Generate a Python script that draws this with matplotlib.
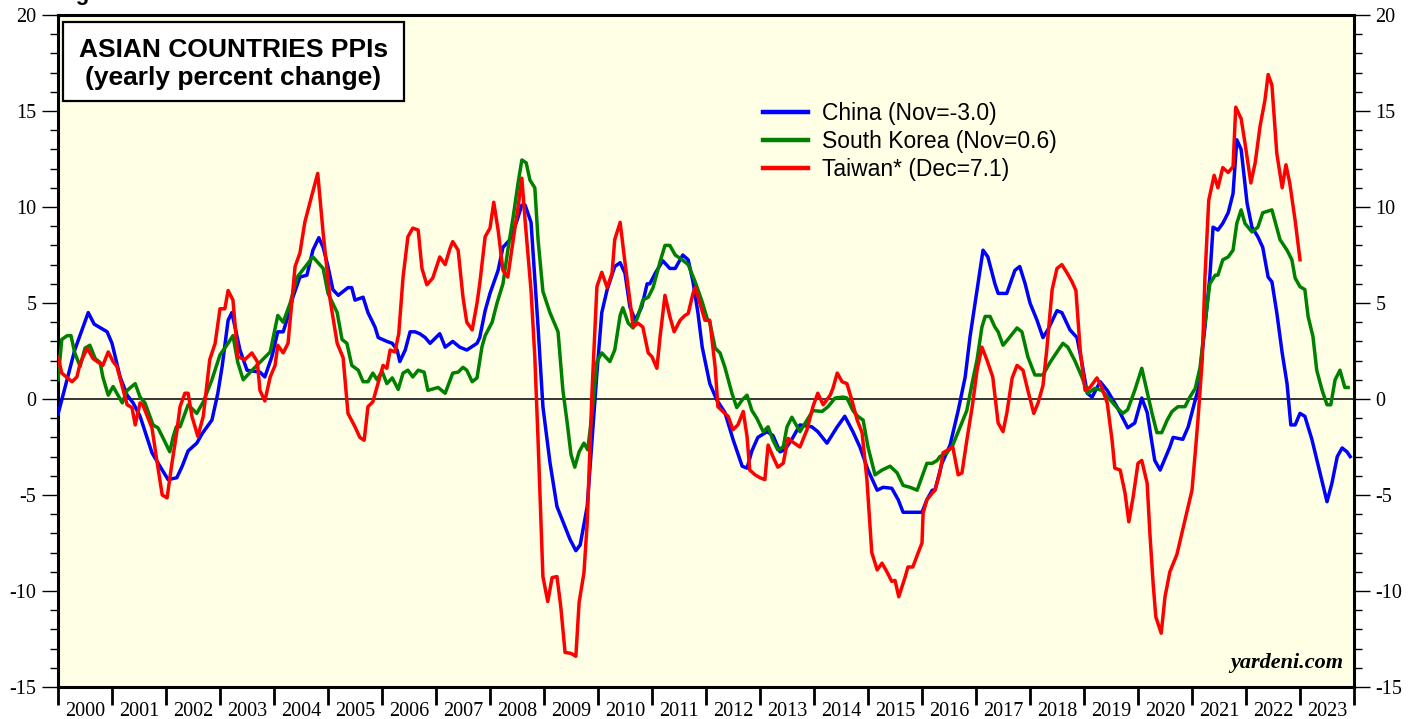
import matplotlib
matplotlib.use("Agg")
import matplotlib.pyplot as plt
from matplotlib.patches import Rectangle
from matplotlib.ticker import FixedLocator, MultipleLocator, NullFormatter

plt.rcParams["axes.unicode_minus"] = False

# ---------------- data (decimal year, % y/y) ----------------
china_t = [2000.0, 2000.31, 2000.56, 2000.67, 2000.91, 2001.0, 2001.15, 2001.28, 2001.39, 2001.52,
           2001.74, 2001.93, 2002.04, 2002.20, 2002.30, 2002.41, 2002.57, 2002.67, 2002.85, 2002.96,
           2003.04, 2003.15, 2003.22, 2003.37, 2003.50, 2003.74, 2003.83, 2003.96, 2004.07, 2004.17,
           2004.26, 2004.35, 2004.48, 2004.61, 2004.72, 2004.83, 2004.91, 2005.0, 2005.09, 2005.19,
           2005.37, 2005.44, 2005.50, 2005.65, 2005.74, 2005.87, 2005.93, 2006.09, 2006.19, 2006.28,
           2006.33, 2006.43, 2006.52, 2006.61, 2006.70, 2006.80, 2006.89, 2007.07, 2007.17, 2007.31,
           2007.44, 2007.57, 2007.76, 2007.81, 2007.91, 2008.0, 2008.15, 2008.24, 2008.37, 2008.50,
           2008.59, 2008.65, 2008.76, 2008.89, 2008.98, 2009.11, 2009.24, 2009.48, 2009.59, 2009.67,
           2009.80, 2009.89, 2009.98, 2010.07, 2010.17, 2010.31, 2010.41, 2010.50, 2010.59, 2010.69,
           2010.81, 2010.91, 2010.96, 2011.06, 2011.20, 2011.33, 2011.43, 2011.57, 2011.67, 2011.76,
           2011.85, 2011.93, 2012.07, 2012.20, 2012.35, 2012.50, 2012.67, 2012.76, 2012.85, 2012.96,
           2013.13, 2013.24, 2013.37, 2013.46, 2013.59, 2013.74, 2013.96, 2014.07, 2014.24, 2014.43,
           2014.57, 2014.72, 2014.85, 2015.0, 2015.17, 2015.28, 2015.44, 2015.56, 2015.65, 2016.0,
           2016.09, 2016.19, 2016.24, 2016.37, 2016.52, 2016.67, 2016.80, 2016.89, 2017.02, 2017.13,
           2017.22, 2017.35, 2017.41, 2017.57, 2017.72, 2017.81, 2017.91, 2018.0, 2018.13, 2018.24,
           2018.33, 2018.50, 2018.59, 2018.74, 2018.87, 2018.96, 2019.06, 2019.15, 2019.30, 2019.43,
           2019.61, 2019.81, 2019.94, 2020.07, 2020.17, 2020.31, 2020.41, 2020.59, 2020.65, 2020.83,
           2020.93, 2021.06, 2021.11, 2021.24, 2021.33, 2021.39, 2021.48, 2021.57, 2021.67, 2021.76,
           2021.83, 2021.91, 2022.02, 2022.11, 2022.22, 2022.31, 2022.41, 2022.48, 2022.57, 2022.67,
           2022.76, 2022.83, 2022.91, 2023.0, 2023.09, 2023.22, 2023.37, 2023.50, 2023.59, 2023.69,
           2023.78, 2023.87, 2023.93]
china_v = [-0.8, 2.55, 4.5, 3.9, 3.5, 2.9, 1.15, 0.2, -0.2, -0.9,
           -2.8, -3.7, -4.2, -4.1, -3.5, -2.7, -2.3, -1.8, -1.1, 0.3,
           1.7, 4.1, 4.5, 2.55, 1.5, 1.4, 1.15, 2.2, 3.5, 3.5,
           4.3, 5.3, 6.35, 6.45, 7.75, 8.4, 7.9, 6.9, 5.7, 5.4,
           5.8, 5.8, 5.15, 5.3, 4.5, 3.75, 3.2, 3.0, 2.9, 2.55,
           1.95, 2.55, 3.5, 3.5, 3.4, 3.2, 2.9, 3.4, 2.7, 3.0,
           2.7, 2.55, 2.9, 3.2, 4.6, 5.5, 6.7, 7.9, 8.3, 9.3,
           10.1, 10.1, 9.2, 3.75, -0.4, -3.3, -5.6, -7.3, -7.9, -7.6,
           -5.6, -2.1, 1.35, 4.5, 5.7, 6.9, 7.1, 6.55, 4.8, 4.1,
           4.8, 6.0, 6.0, 6.55, 7.2, 6.8, 6.8, 7.5, 7.25, 6.1,
           4.5, 2.7, 0.8, -0.05, -0.7, -2.1, -3.5, -3.6, -2.7, -2.0,
           -1.7, -1.9, -2.75, -2.65, -2.1, -1.35, -1.45, -1.7, -2.3, -1.45,
           -0.9, -1.7, -2.5, -3.7, -4.75, -4.6, -4.65, -5.25, -5.9, -5.9,
           -5.25, -4.75, -4.75, -3.35, -2.4, -0.6, 1.15, 3.25, 5.7, 7.75,
           7.4, 6.0, 5.5, 5.5, 6.7, 6.9, 6.0, 5.0, 4.1, 3.2,
           3.6, 4.6, 4.5, 3.6, 3.2, 1.9, 0.3, 0.1, 0.9, 0.45,
           -0.4, -1.5, -1.25, 0.05, -0.7, -3.2, -3.7, -2.5, -2.0, -2.1,
           -1.45, -0.05, 0.45, 3.75, 6.35, 8.95, 8.8, 9.15, 9.7, 10.7,
           13.5, 13.0, 10.2, 8.95, 8.45, 7.9, 6.35, 6.1, 4.5, 2.4,
           0.8, -1.35, -1.35, -0.75, -0.9, -2.1, -3.85, -5.35, -4.4, -3.0,
           -2.55, -2.75, -3.0]

korea_t = [2000.0, 2000.07, 2000.17, 2000.24, 2000.31, 2000.41, 2000.50, 2000.59, 2000.69, 2000.78,
           2000.83, 2000.93, 2001.02, 2001.11, 2001.19, 2001.28, 2001.43, 2001.52, 2001.61, 2001.76,
           2001.85, 2001.94, 2002.07, 2002.13, 2002.19, 2002.26, 2002.41, 2002.57, 2002.69, 2002.85,
           2003.0, 2003.15, 2003.24, 2003.33, 2003.43, 2003.56, 2003.93, 2004.07, 2004.17, 2004.30,
           2004.43, 2004.61, 2004.72, 2004.91, 2005.0, 2005.17, 2005.26, 2005.35, 2005.44, 2005.56,
           2005.65, 2005.74, 2005.83, 2005.91, 2006.0, 2006.09, 2006.19, 2006.30, 2006.39, 2006.48,
           2006.57, 2006.67, 2006.78, 2006.85, 2007.04, 2007.17, 2007.31, 2007.41, 2007.50, 2007.57,
           2007.67, 2007.76, 2007.85, 2007.91, 2008.04, 2008.13, 2008.24, 2008.33, 2008.43, 2008.52,
           2008.59, 2008.67, 2008.74, 2008.83, 2008.89, 2008.98, 2009.11, 2009.26, 2009.35, 2009.43,
           2009.50, 2009.57, 2009.65, 2009.74, 2009.81, 2009.89, 2009.98, 2010.07, 2010.22, 2010.31,
           2010.41, 2010.46, 2010.56, 2010.65, 2010.74, 2010.83, 2010.93, 2011.02, 2011.15, 2011.24,
           2011.33, 2011.43, 2011.56, 2011.67, 2011.80, 2011.93, 2012.02, 2012.07, 2012.17, 2012.26,
           2012.35, 2012.48, 2012.57, 2012.67, 2012.76, 2012.85, 2012.94, 2013.06, 2013.15, 2013.24,
           2013.33, 2013.43, 2013.50, 2013.59, 2013.74, 2013.87, 2013.98, 2014.15, 2014.26, 2014.39,
           2014.54, 2014.61, 2014.72, 2014.81, 2014.91, 2015.0, 2015.13, 2015.26, 2015.41, 2015.54,
           2015.65, 2015.78, 2015.91, 2016.0, 2016.09, 2016.19, 2016.28, 2016.33, 2016.46, 2016.57,
           2016.70, 2016.83, 2016.93, 2017.02, 2017.11, 2017.17, 2017.26, 2017.35, 2017.41, 2017.50,
           2017.59, 2017.76, 2017.85, 2017.96, 2018.09, 2018.24, 2018.37, 2018.50, 2018.61, 2018.70,
           2018.83, 2018.96, 2019.07, 2019.20, 2019.33, 2019.44, 2019.61, 2019.72, 2019.81, 2019.94,
           2020.07, 2020.17, 2020.26, 2020.35, 2020.44, 2020.54, 2020.63, 2020.74, 2020.87, 2020.96,
           2021.06, 2021.15, 2021.24, 2021.33, 2021.43, 2021.48, 2021.57, 2021.67, 2021.76, 2021.83,
           2021.91, 2021.98, 2022.11, 2022.22, 2022.31, 2022.48, 2022.63, 2022.76, 2022.85, 2022.91,
           2023.0, 2023.09, 2023.15, 2023.24, 2023.31, 2023.41, 2023.50, 2023.57, 2023.65, 2023.74,
           2023.83, 2023.89]
korea_v = [1.0, 3.1, 3.3, 3.3, 2.4, 1.7, 2.65, 2.8, 2.1, 1.9,
           1.15, 0.2, 0.65, 0.2, -0.2, 0.45, 0.8, 0.1, -0.2, -1.35,
           -1.5, -2.0, -2.75, -2.0, -1.45, -1.45, -0.3, -0.75, -0.15, 1.0,
           2.3, 2.9, 3.3, 1.9, 1.0, 1.4, 2.45, 4.35, 4.0, 5.0,
           6.35, 7.0, 7.4, 6.8, 5.5, 4.5, 3.1, 2.9, 1.75, 1.5,
           0.9, 0.9, 1.35, 1.0, 1.45, 0.8, 1.1, 0.5, 1.35, 1.5,
           1.15, 1.5, 1.4, 0.45, 0.6, 0.3, 1.35, 1.4, 1.65, 1.5,
           0.9, 1.1, 2.7, 3.3, 4.0, 5.0, 6.0, 7.75, 9.5, 11.25,
           12.45, 12.3, 11.4, 11.0, 8.3, 5.6, 4.5, 3.5, 0.45, -1.25,
           -2.9, -3.55, -2.75, -2.3, -2.65, -0.75, 1.95, 2.4, 1.95, 2.55,
           4.35, 4.75, 3.95, 3.7, 4.3, 5.15, 5.3, 5.8, 7.15, 8.0,
           8.0, 7.5, 7.25, 7.0, 6.1, 5.05, 4.2, 4.0, 2.65, 2.4,
           1.65, 0.3, -0.45, -0.05, 0.2, -0.6, -1.0, -1.7, -1.45, -2.15,
           -2.65, -2.5, -1.45, -0.95, -1.7, -1.1, -0.6, -0.65, -0.4, 0.05,
           0.1, 0.05, -0.6, -0.9, -1.1, -2.5, -3.95, -3.7, -3.5, -3.85,
           -4.5, -4.6, -4.75, -4.05, -3.35, -3.35, -3.2, -3.0, -2.8, -2.4,
           -1.5, -0.6, 0.85, 2.05, 3.75, 4.3, 4.3, 3.75, 3.5, 2.8,
           3.1, 3.7, 3.5, 2.2, 1.25, 1.25, 1.9, 2.45, 2.9, 2.7,
           2.0, 1.15, 0.3, 0.55, 0.45, 0.1, -0.45, -0.75, -0.55, 0.45,
           1.6, 0.35, -0.75, -1.75, -1.75, -1.1, -0.65, -0.4, -0.4, 0.1,
           0.55, 1.65, 3.95, 6.0, 6.45, 6.45, 7.25, 7.4, 7.75, 9.15,
           9.85, 9.15, 8.7, 8.95, 9.7, 9.85, 8.3, 7.75, 7.25, 6.3,
           5.85, 5.7, 4.3, 3.25, 1.5, 0.45, -0.3, -0.3, 1.0, 1.5,
           0.6, 0.6]

taiwan_t = [2000.0, 2000.07, 2000.26, 2000.35, 2000.41, 2000.54, 2000.65, 2000.78, 2000.83, 2000.93,
            2001.02, 2001.09, 2001.19, 2001.28, 2001.37, 2001.43, 2001.52, 2001.57, 2001.74, 2001.83,
            2001.93, 2002.02, 2002.11, 2002.20, 2002.26, 2002.35, 2002.41, 2002.48, 2002.59, 2002.69,
            2002.81, 2002.91, 2003.0, 2003.09, 2003.15, 2003.24, 2003.33, 2003.46, 2003.59, 2003.69,
            2003.74, 2003.83, 2003.93, 2004.02, 2004.07, 2004.17, 2004.26, 2004.39, 2004.48, 2004.57,
            2004.70, 2004.81, 2004.91, 2005.04, 2005.17, 2005.28, 2005.37, 2005.50, 2005.59, 2005.67,
            2005.74, 2005.83, 2006.02, 2006.09, 2006.15, 2006.24, 2006.31, 2006.39, 2006.48, 2006.57,
            2006.67, 2006.74, 2006.83, 2006.94, 2007.07, 2007.17, 2007.26, 2007.31, 2007.41, 2007.50,
            2007.57, 2007.67, 2007.76, 2007.81, 2007.91, 2008.0, 2008.07, 2008.15, 2008.24, 2008.33,
            2008.43, 2008.52, 2008.59, 2008.65, 2008.76, 2008.83, 2008.89, 2008.93, 2008.98, 2009.07,
            2009.15, 2009.24, 2009.31, 2009.39, 2009.50, 2009.59, 2009.65, 2009.74, 2009.80, 2009.89,
            2009.98, 2010.07, 2010.17, 2010.26, 2010.31, 2010.41, 2010.50, 2010.59, 2010.65, 2010.74,
            2010.83, 2010.93, 2011.0, 2011.09, 2011.15, 2011.24, 2011.33, 2011.41, 2011.52, 2011.61,
            2011.67, 2011.76, 2011.80, 2011.87, 2011.98, 2012.07, 2012.17, 2012.22, 2012.35, 2012.41,
            2012.50, 2012.59, 2012.69, 2012.76, 2012.81, 2012.91, 2013.0, 2013.09, 2013.15, 2013.24,
            2013.33, 2013.43, 2013.52, 2013.61, 2013.74, 2013.87, 2013.98, 2014.07, 2014.17, 2014.30,
            2014.35, 2014.43, 2014.52, 2014.61, 2014.70, 2014.80, 2014.89, 2014.98, 2015.07, 2015.17,
            2015.26, 2015.35, 2015.44, 2015.50, 2015.57, 2015.69, 2015.74, 2015.83, 2015.93, 2016.0,
            2016.02, 2016.09, 2016.19, 2016.24, 2016.33, 2016.39, 2016.48, 2016.57, 2016.67, 2016.74,
            2016.83, 2016.93, 2017.02, 2017.11, 2017.20, 2017.31, 2017.41, 2017.50, 2017.57, 2017.67,
            2017.76, 2017.87, 2017.96, 2018.07, 2018.15, 2018.24, 2018.31, 2018.41, 2018.50, 2018.59,
            2018.69, 2018.78, 2018.85, 2018.93, 2019.02, 2019.11, 2019.24, 2019.33, 2019.43, 2019.52,
            2019.57, 2019.67, 2019.76, 2019.83, 2019.91, 2020.0, 2020.07, 2020.17, 2020.22, 2020.28,
            2020.33, 2020.43, 2020.50, 2020.59, 2020.72, 2020.87, 2021.0, 2021.06, 2021.11, 2021.19,
            2021.24, 2021.31, 2021.41, 2021.48, 2021.57, 2021.67, 2021.76, 2021.81, 2021.91, 2021.98,
            2022.09, 2022.17, 2022.26, 2022.35, 2022.41, 2022.48, 2022.57, 2022.67, 2022.74, 2022.81,
            2022.91, 2023.0]
taiwan_v = [2.2, 1.35, 0.9, 1.15, 1.85, 2.65, 2.1, 1.85, 1.75, 2.45,
            1.95, 1.7, 0.65, -0.3, -0.45, -1.35, -0.2, -0.3, -1.5, -3.2,
            -5.0, -5.15, -3.35, -1.7, -0.4, 0.3, 0.3, -0.9, -1.95, -0.9,
            2.05, 2.9, 4.7, 4.7, 5.65, 5.15, 2.2, 2.05, 2.4, 1.95,
            0.45, -0.1, 1.15, 1.75, 2.8, 2.4, 2.9, 6.9, 7.6, 9.2,
            10.6, 11.75, 8.65, 5.15, 2.9, 2.15, -0.75, -1.45, -2.0, -2.15,
            -0.4, -0.15, 1.75, 1.6, 2.55, 2.45, 3.4, 6.35, 8.45, 8.9,
            8.8, 6.8, 5.95, 6.3, 7.4, 7.0, 7.85, 8.2, 7.75, 5.3,
            4.0, 3.6, 5.0, 6.0, 8.45, 8.9, 10.25, 8.8, 6.7, 6.35,
            8.3, 10.0, 11.5, 9.3, 5.65, 2.2, -2.15, -5.25, -9.25, -10.55,
            -9.3, -9.25, -10.8, -13.2, -13.25, -13.4, -10.6, -9.05, -6.45, 0.45,
            5.85, 6.6, 5.8, 6.55, 8.3, 9.2, 7.1, 5.15, 3.75, 3.95,
            3.75, 2.4, 2.2, 1.6, 3.25, 5.4, 4.3, 3.5, 4.1, 4.35,
            4.45, 5.5, 5.8, 5.15, 4.1, 4.1, 1.65, -0.4, -0.75, -0.9,
            -1.6, -1.35, -0.65, -1.95, -3.7, -3.95, -4.1, -4.2, -2.4, -3.0,
            -3.55, -3.35, -2.05, -2.25, -2.5, -1.6, -0.4, 0.3, -0.3, 0.2,
            0.55, 1.35, 0.9, 0.8, -0.05, -1.1, -1.75, -4.2, -8.0, -8.9,
            -8.55, -9.0, -9.5, -9.45, -10.3, -9.25, -8.75, -8.75, -8.0, -7.5,
            -5.95, -5.25, -4.9, -4.75, -3.85, -2.8, -2.65, -2.5, -3.95, -3.85,
            -2.15, -0.4, 1.5, 2.7, 2.05, 1.15, -1.25, -1.7, -0.75, 1.1,
            1.75, 1.5, 0.45, -0.75, -0.2, 0.7, 2.55, 5.7, 6.8, 7.0,
            6.55, 6.1, 5.65, 2.55, 0.45, 0.6, 1.1, 0.6, -0.2, -2.15,
            -3.6, -3.7, -4.9, -6.4, -5.1, -3.35, -3.2, -4.4, -7.0, -9.6,
            -11.35, -12.2, -10.3, -9.0, -8.1, -6.3, -4.75, -2.8, -1.1, 2.05,
            6.35, 10.35, 11.65, 11.0, 12.05, 11.8, 12.1, 15.2, 14.6, 13.35,
            11.25, 12.3, 14.2, 15.55, 16.9, 16.35, 12.8, 11.0, 12.2, 11.25,
            9.3, 7.25]

series_labels = ["China (Nov=-3.0)", "South Korea (Nov=0.6)", "Taiwan* (Dec=7.1)"]
series_colors = ["#0000ff", "#008000", "#ff0000"]
years = list(range(2000, 2024))
y_ticks = [-15, -10, -5, 0, 5, 10, 15, 20]

# ---------------- figure ----------------
W, H = 1421, 719
fig = plt.figure(figsize=(W / 100, H / 100), dpi=100)
ax = fig.add_axes([58 / W, 1 - 687 / H, (1354 - 58) / W, (687 - 15) / H])
ax.set_facecolor("#ffffe6")

for t, v, lab, col in zip([china_t, korea_t, taiwan_t], [china_v, korea_v, taiwan_v],
                          series_labels, series_colors):
    ax.plot(t, v, color=col, lw=2.5, label=lab, zorder=3)

ax.axhline(0, color="black", lw=1.1, zorder=2)

ax.set_xlim(2000, 2024)
ax.set_ylim(-15, 20)

for s in ax.spines.values():
    s.set_linewidth(2.2)
    s.set_color("black")

# y ticks both sides
serif = ["Liberation Serif", "DejaVu Serif"]
ax.yaxis.set_major_locator(FixedLocator(y_ticks))
ax.yaxis.set_minor_locator(MultipleLocator(1))
ax.tick_params(axis="y", which="major", direction="out", length=11.5, width=1.0,
               left=True, right=True, labelleft=True, labelright=True, pad=4)
ax.tick_params(axis="y", which="minor", direction="out", length=5.8, width=1.0,
               left=True, right=True)
for lbl in ax.get_yticklabels():
    lbl.set_fontfamily(serif)
    lbl.set_fontsize(14.5)

# x: year boundaries as ticks, labels centered in year
ax.xaxis.set_major_locator(FixedLocator(years + [2024]))
ax.xaxis.set_major_formatter(NullFormatter())
ax.xaxis.set_minor_locator(FixedLocator([y + 0.5 for y in years]))
ax.set_xticklabels([str(y) for y in years], minor=True)
ax.tick_params(axis="x", which="major", direction="out", length=13, width=2.0,
               bottom=True, top=False)
ax.tick_params(axis="x", which="minor", length=0, pad=10.5)
for lbl in ax.get_xticklabels(minor=True):
    lbl.set_fontfamily(serif)
    lbl.set_fontsize(14.5)

# title box
ax.add_patch(Rectangle((0.0039, 0.872), 0.263, 0.1176, transform=ax.transAxes,
                       facecolor="white", edgecolor="black", lw=1.6, zorder=5))
ax.text(0.1354, 0.927, "ASIAN COUNTRIES PPIs\n(yearly percent change)",
        transform=ax.transAxes, ha="center", va="center", fontsize=19,
        fontweight="bold", family="Liberation Sans", linespacing=1.22, zorder=6)

# legend
leg = ax.legend(loc="upper left", bbox_to_anchor=(0.5371, 0.884), frameon=False,
                prop={"family": "Liberation Sans", "size": 16.5},
                handlelength=1.96, handletextpad=0.6, labelspacing=0.22,
                borderpad=0.4, borderaxespad=0)
for line in leg.get_lines():
    line.set_linewidth(3.2)

# watermark
ax.text(0.9915, 0.0208, "yardeni.com", transform=ax.transAxes, ha="right", va="bottom",
        fontsize=16, fontweight="bold", fontstyle="italic", family=serif, zorder=6)

# cut-off figure label at the very top
fig.text(57 / W, 1.0, "Figure", fontsize=16, fontweight="bold", family="Liberation Sans",
         va="baseline", ha="left")

fig.savefig("out.png", dpi=100)
